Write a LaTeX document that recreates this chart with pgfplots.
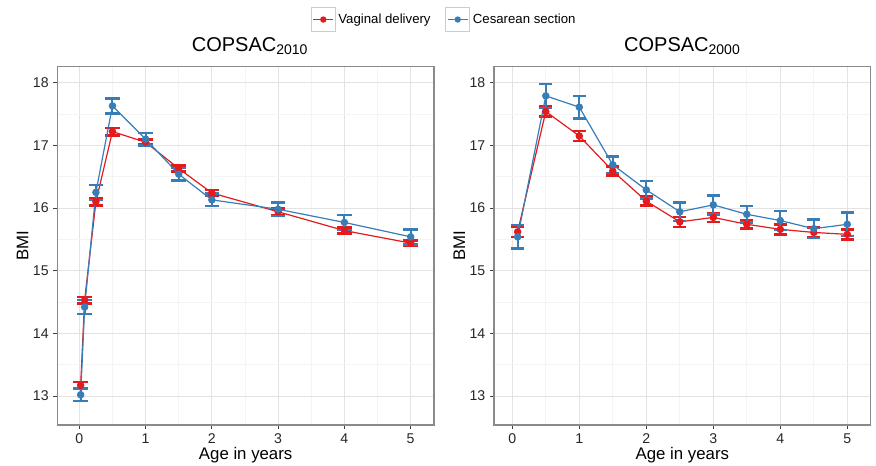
\documentclass[border=0pt]{standalone}
\usepackage{fontspec}
\setmainfont{Liberation Sans}
\usepackage{pgfplots}
\pgfplotsset{compat=1.18}
\usepackage{pgfplotstable}

\definecolor{vagred}{HTML}{E41A1C}
\definecolor{cesblue}{HTML}{377EB8}
\definecolor{gridmaj}{HTML}{E3E3E3}
\definecolor{gridmin}{HTML}{F4F4F4}
\definecolor{frame}{HTML}{8A8A8A}

% x = age in years, y = BMI, e = error bar half length
\pgfplotstableread{
x y e
0.02 13.17 0.05
0.08 14.53 0.05
0.25 16.10 0.06
0.5 17.22 0.06
1 17.05 0.04
1.5 16.63 0.05
2 16.24 0.05
3 15.94 0.05
4 15.64 0.05
5 15.44 0.04
}\vagA
\pgfplotstableread{
x y e
0.02 13.02 0.10
0.08 14.42 0.11
0.25 16.25 0.12
0.5 17.63 0.12
1 17.10 0.10
1.5 16.54 0.10
2 16.13 0.10
3 15.98 0.11
4 15.77 0.12
5 15.54 0.12
}\cesA
\pgfplotstableread{
x y e
0.08 15.62 0.08
0.5 17.54 0.08
1 17.15 0.08
1.5 16.59 0.07
2 16.11 0.07
2.5 15.78 0.08
3 15.85 0.07
3.5 15.74 0.07
4 15.66 0.08
4.5 15.61 0.08
5 15.58 0.08
}\vagB
\pgfplotstableread{
x y e
0.08 15.54 0.19
0.5 17.79 0.19
1 17.61 0.18
1.5 16.69 0.13
2 16.29 0.14
2.5 15.94 0.15
3 16.05 0.15
3.5 15.90 0.13
4 15.80 0.15
4.5 15.67 0.15
5 15.74 0.19
}\cesB

\pgfplotsset{
  panel/.style={
    scale only axis,
    width=282.5pt, height=268.7pt,
    anchor=south west,
    ymin=12.537, ymax=18.255,
    xtick={0,...,5}, ytick={13,...,18},
    minor xtick={0.5,1.5,2.5,3.5,4.5},
    minor ytick={13.5,14.5,15.5,16.5,17.5},
    xtick pos=bottom, ytick pos=left,
    grid=both,
    major grid style={gridmaj, line width=0.6pt},
    minor grid style={gridmin, line width=0.5pt},
    axis line style={frame, line width=0.8pt},
    tick align=outside,
    major tick length=3pt, minor tick length=0pt,
    tick style={black!75, line width=0.6pt},
    /pgf/number format/assume math mode=true,
    ticklabel style={font=\fontsize{10.6}{12}\selectfont, text=black!85},
    xlabel={Age in years}, ylabel={BMI},
    every axis x label/.style={at={(axis description cs:0.5,0)}, anchor=base, yshift=-26pt,
      font=\fontsize{12.6}{14}\selectfont},
    every axis y label/.style={at={(axis description cs:0,0.5)}, rotate=90, anchor=center, yshift=26pt,
      font=\fontsize{12.6}{14}\selectfont},
    title style={font=\fontsize{15}{17}\selectfont, anchor=base, yshift=5.2pt},
    every axis plot/.append style={line width=0.9pt, mark=*, mark size=2.35pt,
      error bars/y dir=both, error bars/y explicit,
      error bars/error bar style={line width=1.5pt},
    },
  },
}

\begin{document}
\begin{tikzpicture}
\useasboundingbox (0,0) rectangle (657pt,348.75pt);

\begin{axis}[panel, at={(43pt,30pt)},
  xmin=-0.332, xmax=5.352,
  title={COPSAC\textsubscript{2010}},
  title style={at={(axis description cs:0.5115,1)}},
  error bars/error mark options={rotate=90, line width=1.9pt, mark size=5.5pt},
  legend columns=2,
  legend style={at={(axis description cs:1.028,1.1317)}, anchor=center,
    draw=none, fill=none, inner sep=0pt,
    font=\fontsize{9.9}{11}\selectfont,
    /tikz/every even column/.append style={column sep=9pt}},
  legend image code/.code={
    \draw[black!20, fill=white, line width=0.7pt] (0pt,-9pt) rectangle (18pt,9pt);
    \draw[mark repeat=2, mark phase=2, #1, mark size=1.9pt] plot coordinates {(1.5pt,0pt) (9pt,0pt) (16.5pt,0pt)};
  },
]
\addplot[vagred, mark options={fill=vagred}] table[x=x, y=y, y error=e] {\vagA};
\addlegendentry{Vaginal delivery}
\addplot[cesblue, mark options={fill=cesblue}] table[x=x, y=y, y error=e] {\cesA};
\addlegendentry{Cesarean section}
\end{axis}

\begin{axis}[panel, at={(370.5pt,30pt)},
  xmin=-0.273, xmax=5.349,
  title={COPSAC\textsubscript{2000}},
  title style={at={(axis description cs:0.5,1)}},
  error bars/error mark options={rotate=90, line width=1.9pt, mark size=4.8pt},
]
\addplot[vagred, mark options={fill=vagred}] table[x=x, y=y, y error=e] {\vagB};
\addplot[cesblue, mark options={fill=cesblue}] table[x=x, y=y, y error=e] {\cesB};
\end{axis}
\end{tikzpicture}
\end{document}
